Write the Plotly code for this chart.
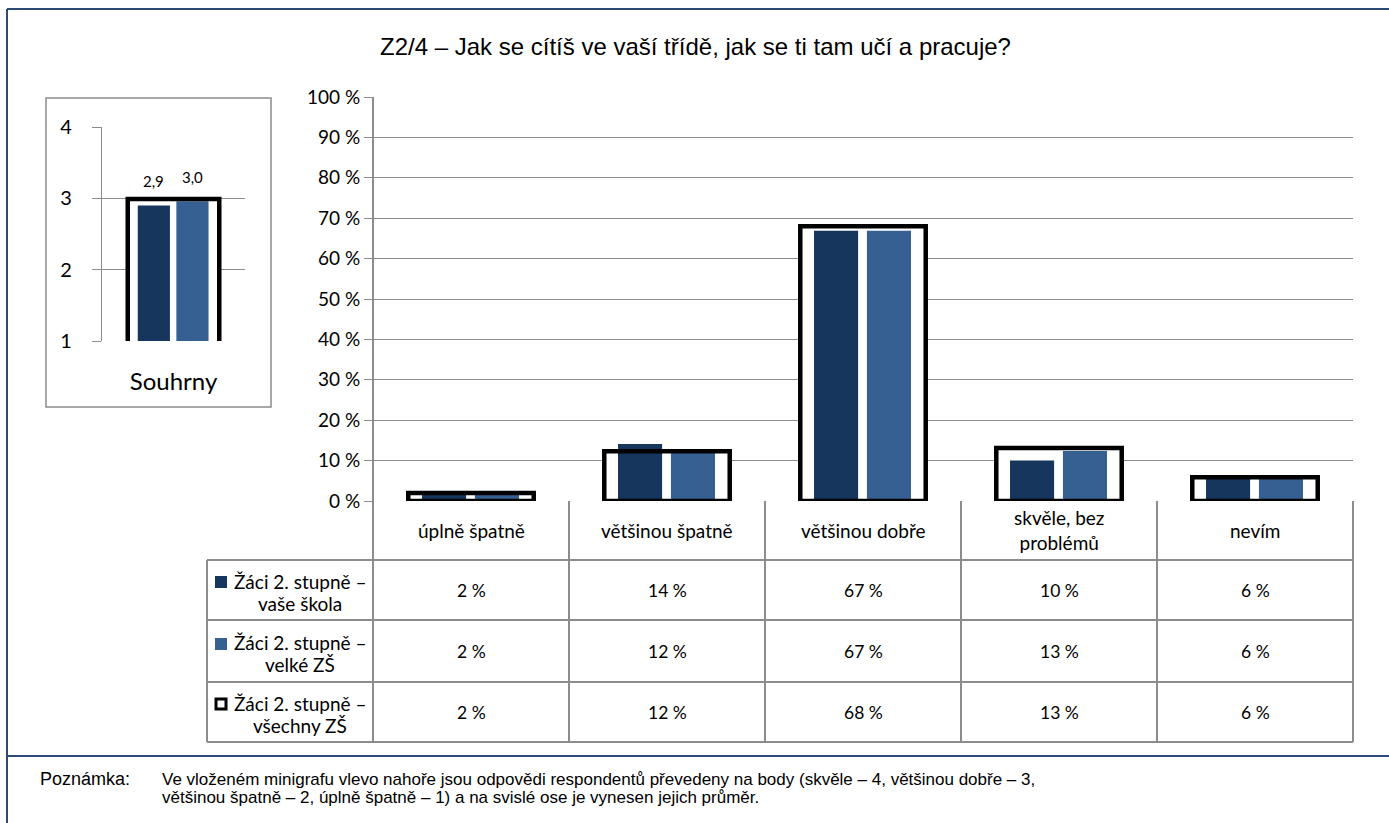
import plotly.graph_objects as go

W, H = 1389, 823
def px(x): return x / W
def py(y): return 1 - y / H

title = "Z2/4 – Jak se cítíš ve vaší třídě, jak se ti tam učí a pracuje?"
categories = ["úplně špatně", "většinou špatně", "většinou dobře", "skvěle, bez problémů", "nevím"]
cat_labels = ["úplně špatně", "většinou špatně", "většinou dobře", "skvěle, bez<br>problémů", "nevím"]
series_names = [["Žáci 2. stupně –", "vaše škola"], ["Žáci 2. stupně –", "velké ZŠ"], ["Žáci 2. stupně –", "všechny ZŠ"]]
vase_skola = [1.5, 14.1, 66.9, 10.0, 5.6]
velke_zs = [1.5, 12.0, 66.9, 12.4, 5.6]
vsechny_zs = [2.0, 12.3, 68.0, 13.1, 5.9]
table_vase = [2, 14, 67, 10, 6]
table_velke = [2, 12, 67, 13, 6]
table_vsechny = [2, 12, 68, 13, 6]
summary_cat = ["Souhrny"]
summary_vase = [2.9]
summary_velke = [2.96]
summary_vsechny = [2.99]
y_ticks = [0, 10, 20, 30, 40, 50, 60, 70, 80, 90, 100]
y_ticktext = [f"{v} %" for v in y_ticks]
mini_ticks = [1, 2, 3, 4]
note_label = "Poznámka:"
note_lines = ["Ve vloženém minigrafu vlevo nahoře jsou odpovědi respondentů převedeny na body (skvěle – 4, většinou dobře – 3,",
              "většinou špatně – 2, úplně špatně – 1) a na svislé ose je vynesen jejich průměr."]

DARK = "#17365D"
LIGHT = "#366092"
GRID = "#8C8C8C"
FRAME = "#2B4C74"
CAL = "Lato, 'Noto Sans', sans-serif"
ARIAL = "'Liberation Sans', Arial, sans-serif"

# bar geometry (style)
BOX_W, BOX_OFF = 0.64, -0.32
BAR_W, DARK_OFF, LIGHT_OFF = 0.225, -0.25, 0.02

fig = go.Figure()

# main chart
fig.add_trace(go.Bar(x=categories, y=vsechny_zs, width=BOX_W, offset=BOX_OFF,
                     marker=dict(color="white", line=dict(width=0)), xaxis="x", yaxis="y", showlegend=False))
fig.add_trace(go.Bar(x=categories, y=vase_skola, width=BAR_W, offset=DARK_OFF,
                     marker=dict(color=DARK, line=dict(width=0)), xaxis="x", yaxis="y", showlegend=False))
fig.add_trace(go.Bar(x=categories, y=velke_zs, width=BAR_W, offset=LIGHT_OFF,
                     marker=dict(color=LIGHT, line=dict(width=0)), xaxis="x", yaxis="y", showlegend=False))
fig.add_trace(go.Bar(x=categories, y=vsechny_zs, width=BOX_W, offset=BOX_OFF,
                     marker=dict(color="rgba(0,0,0,0)", line=dict(width=4.5, color="black")),
                     xaxis="x", yaxis="y", showlegend=False))

# mini chart
fig.add_trace(go.Bar(x=summary_cat, y=summary_vsechny, width=BOX_W, offset=BOX_OFF,
                     marker=dict(color="white", line=dict(width=0)), xaxis="x2", yaxis="y2", showlegend=False))
fig.add_trace(go.Bar(x=summary_cat, y=summary_vase, width=BAR_W, offset=DARK_OFF,
                     marker=dict(color=DARK, line=dict(width=0)), xaxis="x2", yaxis="y2", showlegend=False))
fig.add_trace(go.Bar(x=summary_cat, y=summary_velke, width=BAR_W, offset=LIGHT_OFF,
                     marker=dict(color=LIGHT, line=dict(width=0)), xaxis="x2", yaxis="y2", showlegend=False))
fig.add_trace(go.Bar(x=summary_cat, y=summary_vsechny, width=BOX_W, offset=BOX_OFF,
                     marker=dict(color="rgba(0,0,0,0)", line=dict(width=4.5, color="black")),
                     xaxis="x2", yaxis="y2", showlegend=False))

shapes = []
def line(x0, y0, x1, y1, color=GRID, width=2, xref="paper"):
    shapes.append(dict(type="line", xref=xref, yref="paper", x0=x0, x1=x1, y0=py(y0), y1=py(y1),
                       line=dict(color=color, width=width), layer="above"))

# outer frame
line(px(7), 9, px(7), 823, FRAME, 2)
line(px(7), 9, px(1389), 9, FRAME, 2)
line(px(7), 756, px(1389), 756, FRAME, 2)
# mini frame
shapes.append(dict(type="rect", xref="paper", yref="paper", x0=px(46), x1=px(271), y0=py(407), y1=py(98),
                   line=dict(color=GRID, width=1.5), layer="below"))
# table
row_lines = [560, 620, 682, 742]
for yy in row_lines:
    line(px(207), yy, px(1353), yy)
line(px(207), 560, px(207), 742)
line(px(373), 97, px(373), 742)
for k in range(1, len(categories) + 1):
    line(k / len(categories), 501, k / len(categories), 742, xref="x domain")

# legend keys
shapes.append(dict(type="rect", xref="paper", yref="paper", x0=px(215), x1=px(227), y0=py(588), y1=py(576),
                   fillcolor=DARK, line=dict(width=0)))
shapes.append(dict(type="rect", xref="paper", yref="paper", x0=px(215), x1=px(227), y0=py(650), y1=py(638),
                   fillcolor=LIGHT, line=dict(width=0)))
shapes.append(dict(type="rect", xref="paper", yref="paper", x0=px(216), x1=px(226), y0=py(709), y1=py(699),
                   fillcolor="white", line=dict(width=3, color="black")))

annotations = []
def ann(text, x, y, font, xref="paper", xanchor="center"):
    annotations.append(dict(text=text, xref=xref, yref="paper", x=x, y=py(y), showarrow=False, font=font,
                            xanchor=xanchor, yanchor="middle", align="center"))

ann(title, px(695), 47, dict(family=ARIAL, size=24, color="black"))
for c, lab in zip(categories, cat_labels):
    ann(lab, c, 530, dict(family=CAL, size=19, color="black"), xref="x")
row_centers = [590, 651, 712]
for vals, yc, name in zip([table_vase, table_velke, table_vsechny], row_centers, series_names):
    for c, v in zip(categories, vals):
        ann(f"{v} %", c, yc, dict(family=CAL, size=17.5, color="black"), xref="x")
    ann(name[0], px(300), yc - 9, dict(family=CAL, size=19, color="black"))
    ann(name[1], px(300), yc + 13, dict(family=CAL, size=19, color="black"))
ann(note_label, px(38), 779, dict(family=ARIAL, size=18, color="black"), xanchor="left")
ann(note_lines[0], px(160), 779, dict(family=ARIAL, size=17, color="black"), xanchor="left")
ann(note_lines[1], px(160), 797, dict(family=ARIAL, size=17, color="black"), xanchor="left")

# mini chart data labels, placed above each bar
for vals, off in [(summary_vase, DARK_OFF), (summary_velke, LIGHT_OFF)]:
    for i, v in enumerate(vals):
        annotations.append(dict(text=f"{v:.1f}".replace(".", ","), xref="x2", yref="y2",
                                x=i + off + BAR_W / 2, y=v, yshift=13, showarrow=False,
                                xanchor="center", yanchor="bottom",
                                font=dict(family=CAL, size=15, color="black")))

fig.update_layout(
    width=W, height=H, autosize=False, margin=dict(l=0, r=0, t=0, b=0, pad=0),
    paper_bgcolor="white", plot_bgcolor="rgba(0,0,0,0)",
    barmode="overlay", separators=", ", showlegend=False,
    xaxis=dict(domain=[px(373), px(1353)], type="category", categoryorder="array", categoryarray=categories,
               range=[-0.5, 4.5], showticklabels=False, showgrid=False, zeroline=False, showline=False,
               automargin=False),
    yaxis=dict(domain=[py(501), py(97)], range=[0, 100], tickmode="array", tickvals=y_ticks, ticktext=y_ticktext,
               showgrid=True, gridcolor=GRID, gridwidth=1.3, zeroline=False, showline=False,
               ticks="outside", ticklen=8, tickcolor=GRID, tickwidth=1.3, automargin=False,
               tickfont=dict(family=CAL, size=19, color="black")),
    xaxis2=dict(domain=[px(102), px(245)], anchor="y2", type="category", range=[-0.5, 0.5],
                showgrid=False, zeroline=False, showline=False, ticks="", ticklabelstandoff=24,
                automargin=False, tickfont=dict(family=CAL, size=24, color="black")),
    yaxis2=dict(domain=[py(341), py(127)], anchor="x2", range=[1, 4], tickmode="array", tickvals=mini_ticks,
                showgrid=True, gridcolor=GRID, gridwidth=1.3, zeroline=False, showline=True,
                linecolor=GRID, linewidth=1.3, ticks="outside", ticklen=9, tickcolor=GRID, tickwidth=1.3,
                ticklabelstandoff=16, automargin=False, tickfont=dict(family=CAL, size=20, color="black")),
    shapes=shapes, annotations=annotations,
)

fig.write_html("out.html", config={"displayModeBar": False},
               post_script="document.body.style.margin='0';")
